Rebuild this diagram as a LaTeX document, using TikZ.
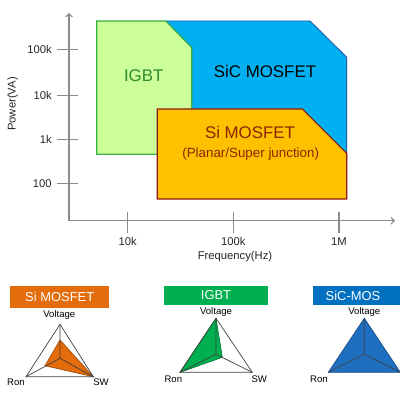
\documentclass[tikz,border=0pt]{standalone}
\usepackage{fontspec}
\setmainfont{Liberation Sans}
\usetikzlibrary{arrows}
\definecolor{axisgray}{HTML}{8C8C8C}
\definecolor{igbtlight}{HTML}{CCFF99}
\definecolor{igbtline}{HTML}{3CB043}
\definecolor{igbttext}{HTML}{2E8B2E}
\definecolor{siclight}{HTML}{00B0F0}
\definecolor{sicline}{HTML}{1F5FA8}
\definecolor{siamber}{HTML}{FFC000}
\definecolor{siline}{HTML}{8B1A10}
\definecolor{sitext}{HTML}{8B2500}
\definecolor{orangebox}{HTML}{E46C0A}
\definecolor{greenbox}{HTML}{00B050}
\definecolor{bluebox}{HTML}{0070C0}
\definecolor{bluetri}{HTML}{1F6FC1}
\definecolor{webgray}{HTML}{404040}

\begin{document}
\begin{tikzpicture}[x=0.025cm,y=-0.025cm,every node/.style={inner sep=0pt},
	axis/.style={draw=axisgray,line width=1pt},
	ticklab/.style={font=\fontsize{8}{9}\selectfont,text=black!85},
	bigname/.style={font=\fontsize{12}{14}\selectfont},
	headbox/.style={font=\fontsize{9.2}{11}\selectfont,text=white},
	cornerlab/.style={font=\fontsize{6.8}{8}\selectfont},
	web/.style={draw=webgray,line width=0.5pt}]
\clip (0,0) rectangle (400,400);
\fill[white] (0,0) rectangle (400,400);
\draw[axis,->] (69,220.7) -- (69,13);
\draw[axis,->] (69,220.7) -- (395,220.7);
\foreach \y/\lab in {49.3/100k,95.7/10k,139.7/1k,183.3/100} {
	\draw[axis] (57,\y) -- (78,\y);
	\node[ticklab,anchor=east] (ylab\lab) at (52,\y) {\lab};
}
\foreach \x/\lab in {127.7/10k,233.3/100k,339/1M} {
	\draw[axis] (\x,212) -- (\x,233);
	\node[ticklab] (xlab\lab) at (\x,241.7) {\lab};
}
\node[ticklab] (freq) at (235,256.7) {Frequency(Hz)};
\node[ticklab,rotate=90] (power) at (12.7,104) {Power(VA)};
\filldraw[fill=siclight,draw=sicline,line width=0.7pt] (165.7,21) -- (310,21) -- (346.7,57.3) -- (346.7,160) -- (191.7,160) -- (191.7,47.7) -- cycle;
\filldraw[fill=igbtlight,draw=igbtline,line width=0.8pt] (96.7,21) -- (165.7,21) -- (191.7,47.7) -- (191.7,154.3) -- (96.7,154.3) -- cycle;
\filldraw[fill=siamber,draw=siline,line width=0.8pt] (157.3,109) -- (302.3,109) -- (346.7,153.3) -- (346.7,199) -- (157.3,199) -- cycle;
\node[bigname,text=igbttext] (igbt) at (143.7,76) {IGBT};
\node[bigname] (sic) at (265,71) {SiC MOSFET};
\node[bigname,text=sitext] (simos) at (250,132.7) {Si MOSFET};
\node[font=\fontsize{9.5}{11}\selectfont,text=sitext] (planar) at (250.7,154) {(Planar/Super junction)};
% radar charts
\fill[orangebox] (10,285.7) rectangle (109.3,308.3);
\node[headbox] (sihead) at (59.7,297) {Si MOSFET};
\coordinate (sV) at (60,324.3);
\coordinate (sR) at (26,376.7);
\coordinate (sS) at (93.3,376.7);
\coordinate (sC) at (60,358.3);
\filldraw[fill=orangebox,draw=orangebox!70!black,line width=0.5pt] (60,340) -- (sS) -- (45,365.7) -- cycle;
\draw[web] (sV) -- (sR) -- (sS) -- cycle;
\draw[web] (sC) -- (sV) (sC) -- (sR) (sC) -- (sS);
\node[cornerlab] (sivolt) at (59.3,315) {Voltage};
\node[cornerlab] (siron) at (16,382.3) {Ron};
\node[cornerlab] (sisw) at (101,382.3) {SW};
\fill[greenbox] (164.3,285.7) rectangle (267.7,305.3);
\node[headbox] (igbthead) at (216,295.5) {IGBT};
\coordinate (gV) at (216,318.3);
\coordinate (gR) at (180,372.3);
\coordinate (gS) at (252.3,372.3);
\coordinate (gC) at (216,354.3);
\filldraw[fill=greenbox,draw=greenbox!70!black,line width=0.5pt] (gV) -- (222.3,357.3) -- (gR) -- cycle;
\draw[web] (gV) -- (gR) -- (gS) -- cycle;
\draw[web] (gC) -- (gV) (gC) -- (gR) (gC) -- (gS);
\node[cornerlab] (igbtvolt) at (216,312.3) {Voltage};
\node[cornerlab] (igbtron) at (173.3,379.3) {Ron};
\node[cornerlab] (igbtsw) at (259.3,379.3) {SW};
\fill[bluebox] (313.3,285.7) rectangle (410,305.3);
\node[headbox] (sichead) at (353,295.5) {SiC-MOS};
\coordinate (cV) at (364.3,318.3);
\coordinate (cR) at (328.3,372.3);
\coordinate (cS) at (400.3,372.3);
\coordinate (cC) at (364.3,354.3);
\filldraw[fill=bluetri,draw=bluetri!70!black,line width=0.5pt] (cV) -- (cR) -- (cS) -- cycle;
\draw[web] (cC) -- (cV) (cC) -- (cR) (cC) -- (cS);
\node[cornerlab] (sicvolt) at (364.3,312.3) {Voltage};
\node[cornerlab] (sicron) at (319,379.3) {Ron};
\end{tikzpicture}
\end{document}
